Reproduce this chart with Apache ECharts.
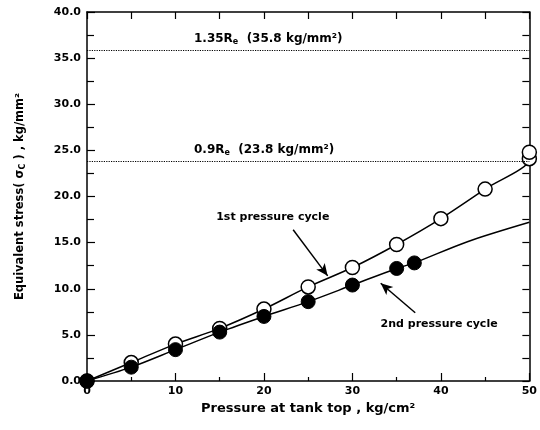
<!DOCTYPE html>
<html>
<head>
<meta charset="utf-8">
<script src="https://cdn.jsdelivr.net/npm/echarts@6/dist/echarts.min.js"></script>
<style>
  html, body { margin: 0; padding: 0; background: #fff; }
  #chart { width: 540px; height: 430px; }
</style>
</head>
<body>
<div id="chart"></div>
<script>
// pressure at tank top (kg/cm2) and equivalent stress (kg/mm2)
var cycle1X = [0, 5, 10, 15, 20, 25, 30, 35, 40, 45, 50, 50];
var cycle1Y = [0, 2.0, 4.0, 5.7, 7.8, 10.2, 12.3, 14.8, 17.6, 20.8, 24.1, 24.8];
var cycle2X = [0, 5, 10, 15, 20, 25, 30, 35, 37];
var cycle2Y = [0, 1.5, 3.4, 5.3, 7.0, 8.6, 10.4, 12.2, 12.8];
// 2nd cycle curve continues without measured points
var cycle2TailX = [43, 50];
var cycle2TailY = [15.1, 17.2];

var limitLines = [35.8, 23.8];
var limitTexts = ['1.35R{s|e}  (35.8 kg/mm²)', '0.9R{s|e}  (23.8 kg/mm²)'];

var font = 'DejaVu Sans, Liberation Sans, sans-serif';

function pairs(xs, ys){
    return xs.map(function(x, i){ return [x, ys[i]]; });
}

var data2 = pairs(cycle2X, cycle2Y).concat(
    pairs(cycle2TailX, cycle2TailY).map(function(p){
        return { value: p, symbol: 'none' };
    })
);

var myChart = echarts.init(document.getElementById('chart'));

var boxAxis = {
    axisLine: { show: true, onZero: false, lineStyle: { color: '#000', width: 1.5 } },
    axisTick: { show: true, inside: true, length: 7, lineStyle: { color: '#000', width: 1.2 } },
    axisLabel: { show: false },
    splitLine: { show: false }
};

var subRich = {
    s: { fontSize: 8, fontWeight: 'bold', fontFamily: font, verticalAlign: 'bottom', padding: [6, 0, 0, 0], color: '#000' }
};

myChart.setOption({
    animation: false,
    backgroundColor: '#fff',
    grid: { left: 87, right: 7, top: 12, bottom: 49 },
    xAxis: [{
        type: 'value',
        min: 0, max: 50, interval: 10,
        name: 'Pressure at tank top , kg/cm²',
        nameLocation: 'middle',
        nameGap: 21,
        nameTextStyle: { fontFamily: font, fontWeight: 'bold', fontSize: 13, color: '#000' },
        axisLine: { onZero: false, lineStyle: { color: '#000', width: 1.5 } },
        axisTick: { inside: true, length: 8, lineStyle: { color: '#000', width: 1.2 } },
        minorTick: { show: true, splitNumber: 2, length: 4, lineStyle: { color: '#000', width: 1.2 } },
        axisLabel: { fontFamily: font, fontWeight: 'bold', fontSize: 11, color: '#000', margin: 5 },
        splitLine: { show: false }
    }, Object.assign({
        type: 'value', position: 'top', min: 0, max: 50, interval: 5
    }, boxAxis)],
    yAxis: [{
        type: 'value',
        min: 0, max: 40, interval: 5,
        name: '{a|Equivalent stress( σ}{c|C}{a| ) , kg/mm²}',
        nameLocation: 'middle',
        nameGap: 60,
        nameTextStyle: {
            rich: {
                a: { fontFamily: font, fontWeight: 'bold', fontSize: 11.5, color: '#000' },
                c: { fontFamily: font, fontWeight: 'bold', fontSize: 8, color: '#000', verticalAlign: 'bottom', padding: [5, 0, 0, 0] }
            }
        },
        axisLine: { onZero: false, lineStyle: { color: '#000', width: 1.5 } },
        axisTick: { inside: true, length: 8, lineStyle: { color: '#000', width: 1.2 } },
        minorTick: { show: true, splitNumber: 2, length: 7, lineStyle: { color: '#000', width: 1.2 } },
        axisLabel: {
            fontFamily: font, fontWeight: 'bold', fontSize: 11, color: '#000', margin: 6,
            formatter: function(v){ return v.toFixed(1); }
        },
        splitLine: { show: false }
    }, Object.assign({
        type: 'value', position: 'right', min: 0, max: 40, interval: 2.5
    }, boxAxis)],
    series: [{
        name: '1st pressure cycle',
        type: 'line',
        smooth: 0.3,
        data: pairs(cycle1X, cycle1Y),
        symbol: 'circle',
        symbolSize: 14,
        itemStyle: { color: '#fff', borderColor: '#000', borderWidth: 1.5 },
        lineStyle: { color: '#000', width: 1.5 },
        z: 3,
        markLine: {
            silent: true,
            symbol: ['none', 'none'],
            lineStyle: { color: '#000', type: 'dotted', width: 1.2 },
            label: {
                show: true,
                position: 'insideStartTop',
                distance: [107, 5],
                fontFamily: font, fontWeight: 'bold', fontSize: 12, color: '#000',
                rich: subRich
            },
            data: limitLines.map(function(v, i){
                return { yAxis: v, label: { formatter: limitTexts[i] } };
            })
        }
    }, {
        name: '2nd pressure cycle',
        type: 'line',
        smooth: 0.3,
        data: data2,
        symbol: 'circle',
        symbolSize: 14,
        itemStyle: { color: '#000', borderColor: '#000', borderWidth: 1 },
        lineStyle: { color: '#000', width: 1.5 },
        z: 4
    }, {
        // annotations with arrows
        type: 'line',
        data: [],
        silent: true,
        markPoint: {
            symbol: 'circle',
            symbolSize: 0,
            label: {
                show: true, position: 'inside',
                fontFamily: font, fontWeight: 'bold', fontSize: 11, color: '#000'
            },
            data: [
                { coord: [21.0, 17.8], label: { formatter: '1st pressure cycle' } },
                { coord: [39.8, 6.2], label: { formatter: '2nd pressure cycle' } }
            ]
        },
        markLine: {
            silent: true,
            symbol: ['none', 'arrow'],
            symbolSize: [8, 12],
            label: { show: false },
            lineStyle: { color: '#000', type: 'solid', width: 1.5 },
            data: [
                [{ coord: [23.3, 16.4], lineStyle: { curveness: 0.12 } }, { coord: [27.2, 11.4] }],
                [{ coord: [37.1, 7.4] }, { coord: [33.2, 10.6] }]
            ]
        }
    }]
});
</script>
</body>
</html>
